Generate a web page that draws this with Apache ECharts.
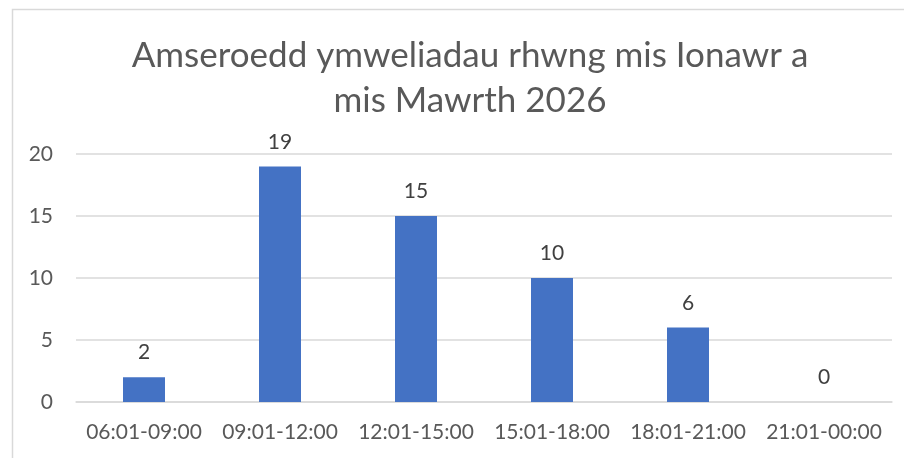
<!DOCTYPE html>
<html>
<head>
<meta charset="utf-8">
<script src="https://cdn.jsdelivr.net/npm/echarts@6/dist/echarts.min.js"></script>
<style>html,body{margin:0;padding:0;background:#fff}#c{width:904px;height:458px}</style>
</head>
<body>
<div id="c"></div>
<script>
const categories = ['06:01-09:00','09:01-12:00','12:01-15:00','15:01-18:00','18:01-21:00','21:01-00:00'];
const values = [2, 19, 15, 10, 6, 0];
const titleText = 'Amseroedd ymweliadau rhwng mis Ionawr a\nmis Mawrth 2026';
const yTicks = [0, 5, 10, 15, 20];

const chart = echarts.init(document.getElementById('c'), null, {renderer: 'canvas'});
const font = 'Lato, "Open Sans", sans-serif';
chart.setOption({
  animation: false,
  graphic: [{
    type: 'rect', shape: {x: 12.5, y: 9.5, width: 920, height: 470},
    style: {fill: 'none', stroke: '#d9d9d9', lineWidth: 1.5}, silent: true, z: -1
  }],
  title: {
    text: titleText, left: 465, top: 28, textAlign: 'center',
    textStyle: {fontFamily: font, fontSize: 35, fontWeight: 'normal', color: '#595959', lineHeight: 45}
  },
  grid: {left: 76, right: 12, top: 154, bottom: 56, containLabel: false},
  xAxis: {
    type: 'category', data: categories,
    axisLine: {show: true, lineStyle: {color: '#d9d9d9', width: 1.5}},
    axisTick: {show: false},
    axisLabel: {interval: 0, hideOverlap: false, fontFamily: font, fontSize: 21, color: '#595959', margin: 20}
  },
  yAxis: {
    type: 'value', min: yTicks[0], max: yTicks[yTicks.length-1], interval: 5,
    axisLine: {show: false}, axisTick: {show: false},
    splitLine: {lineStyle: {color: '#d9d9d9', width: 1.5}},
    axisLabel: {fontFamily: font, fontSize: 21, color: '#595959', margin: 23}
  },
  series: [{
    type: 'bar', data: values, barWidth: 42,
    itemStyle: {color: '#4472c4'},
    label: {show: true, position: 'top', distance: 14, fontFamily: font, fontSize: 21, color: '#404040'}
  }]
});
</script>
</body>
</html>
